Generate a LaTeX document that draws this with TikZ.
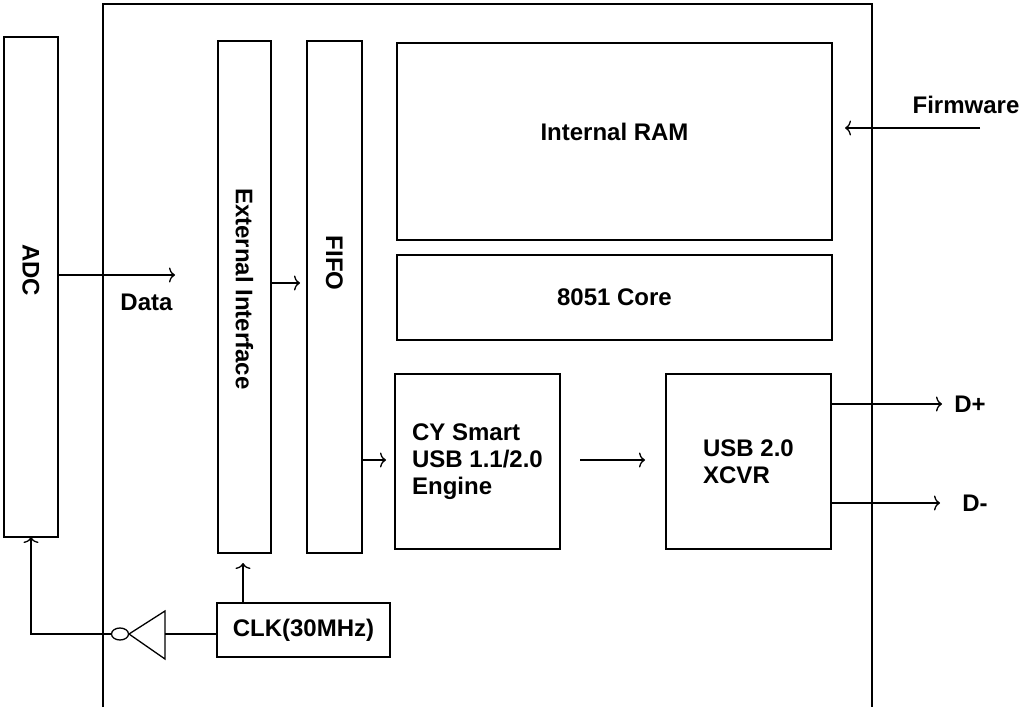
\documentclass[tikz,border=0pt]{standalone}
\usepackage{fontspec}
\setmainfont{Liberation Sans}
\usetikzlibrary{arrows.meta}
\begin{document}
\begin{tikzpicture}[x=1pt,y=-1pt,
  line width=1.5pt,
  txt/.style={font=\bfseries\fontsize{24}{27}\selectfont},
  box/.style={draw, rectangle, inner sep=0pt, outer sep=0pt, anchor=north west, txt, align=left},
  lbl/.style={txt, inner sep=0pt},
  arr/.style={-{To[length=6pt,width=15pt]}, line width=1.3pt},
  wire/.style={line width=1.3pt}]
\useasboundingbox (0,0) rectangle (1027,707);
% chip outline (runs off the bottom edge)
\draw (103,707) -- (103,4) -- (872,4) -- (872,707);
% blocks
\node[box, minimum width=54, minimum height=500] (adc) at (4,37) {};
\node[lbl, rotate=-90] (adct) at (31,270) {ADC};
\node[box, minimum width=53, minimum height=512] (ext) at (218,41) {};
\node[lbl, rotate=-90] (extt) at (244.5,289) {External Interface};
\node[box, minimum width=55, minimum height=512] (fifo) at (307,41) {};
\node[lbl, rotate=-90] (fifot) at (334.5,263) {FIFO};
\node[box, minimum width=435, minimum height=197] (ram) at (397,43) {};
\node[lbl] (ramt) at (614.5,132) {Internal RAM};
\node[box, minimum width=435, minimum height=85] (core) at (397,255) {8051 Core};
\node[box, minimum width=165, minimum height=175] (cy) at (395,374) {CY Smart\\USB 1.1/2.0\\Engine};
\node[box, minimum width=165, minimum height=175] (usb) at (666,374) {USB 2.0\\XCVR};
\node[box, minimum width=173, minimum height=54] (clk) at (217,603) {CLK(30MHz)};
% free labels
\node[lbl] (data) at (146.5,302) {Data};
\node[lbl] (fw) at (966,105) {Firmware};
\node[lbl] (dp) at (970,404) {D+};
\node[lbl] (dm) at (975,503) {D-};
% arrow end points
\coordinate (dataend) at (175,275);
\coordinate (extend) at (300,283);
\coordinate (fifoend) at (386,460);
\coordinate (cyout) at (580,460);
\coordinate (usbin) at (645,460);
\coordinate (dpend) at (942,404);
\coordinate (dmend) at (940,503);
\coordinate (fwstart) at (980,128);
\coordinate (fwend) at (845,128);
\coordinate (clkup) at (243,563);
% connectors
\draw[arr] (adc.east |- dataend) -- (dataend);
\draw[arr] (ext.east |- extend) -- (extend);
\draw[arr] (fifo.east |- fifoend) -- (fifoend);
\draw[arr] (cyout) -- (usbin);
\draw[arr] (usb.east |- dpend) -- (dpend);
\draw[arr] (usb.east |- dmend) -- (dmend);
\draw[arr] (fwstart) -- (fwend);
\draw[arr] (clk.north -| clkup) -- (clkup);
% inverter
\coordinate (invin) at (165,634);
\coordinate (invout) at (111,634);
\draw[wire] (165,611) -- (165,659) -- (129,634) -- cycle;
\draw[wire] (120,634) ellipse [x radius=8.5, y radius=6];
\draw[wire] (clk.west |- invin) -- (invin);
\draw[arr] (invout) -| (adc.south);
\end{tikzpicture}
\end{document}
